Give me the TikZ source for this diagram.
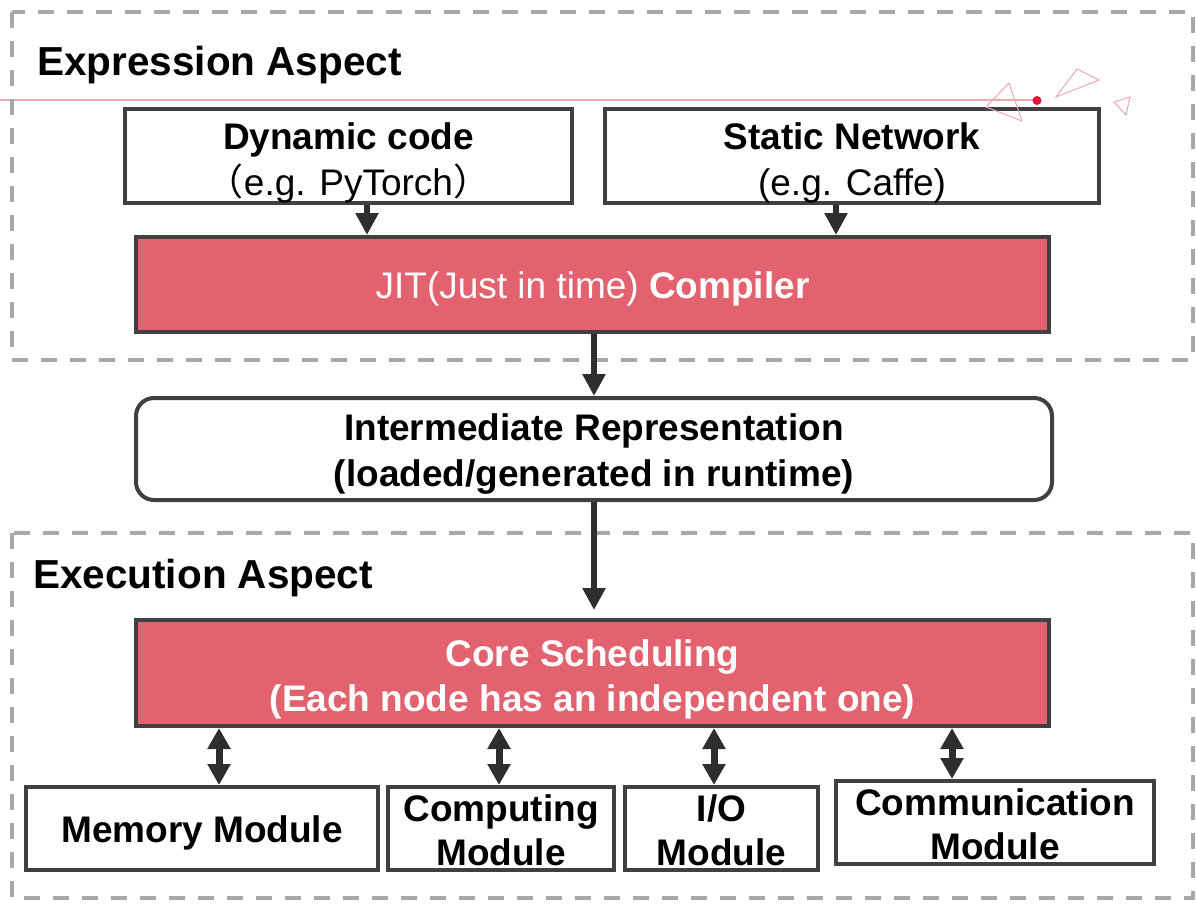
\documentclass[tikz,border=0pt]{standalone}
\usepackage{fontspec}
\setmainfont{Liberation Sans}
\newfontfamily\cjkfont{Noto Sans CJK SC}
\usetikzlibrary{arrows.meta}
\definecolor{boxline}{HTML}{404040}
\definecolor{arrowcol}{HTML}{2E2E2E}
\definecolor{redfill}{HTML}{E2626F}
\definecolor{dashgray}{HTML}{A8A8A8}
\definecolor{pinkline}{HTML}{E9A9B2}
\definecolor{dotred}{HTML}{E0153A}
\tikzset{
  dashbox/.style={draw=dashgray, line width=3.5pt, dash pattern=on 16pt off 13pt},
  plainbox/.style={draw=boxline, line width=4pt, fill=white, inner sep=0pt, align=center,
    font=\fontsize{37}{46}\selectfont},
  redbox/.style={plainbox, fill=redfill, text=white},
  heading/.style={anchor=base west, inner sep=0pt, font=\fontsize{40.5}{48}\selectfont\bfseries},
  arr/.style={draw=arrowcol, line width=6pt, -{Triangle[width=22pt,length=22pt]}},
  dblarr/.style={draw=arrowcol, line width=7pt,
    {Triangle[width=22pt,length=21pt]}-{Triangle[width=22pt,length=21pt]}},
  deco/.style={draw=pinkline, line width=1pt},
}
\begin{document}
\begin{tikzpicture}[x=1pt, y=-1pt]
\useasboundingbox (0,0) rectangle (1196,905);

% slide background line
\draw[pinkline, line width=1.5pt] (0,100) -- (1038,100);

% aspect frames
\draw[dashbox] (12,12) rectangle (1193,360);
\draw[dashbox] (12,533) rectangle (1193,898);
\node[heading] (hexp) at (37,75) {Expression Aspect};
\node[heading] (hexe) at (33,588) {Execution Aspect};

% expression layer
\node[plainbox, minimum width=447pt, minimum height=92pt, text height=87pt] (dyn) at (348.5,156)
  {\textbf{Dynamic code}\\{\cjkfont （}e.g. PyTorch{\cjkfont ）}};
\node[plainbox, minimum width=494pt, minimum height=92pt, text height=87pt] (stat) at (852,156)
  {\textbf{Static Network}\\(e.g. Caffe)};
\node[redbox, minimum width=913pt, minimum height=95pt, text height=35pt] (jit) at (592.5,284.5)
  {JIT(Just in time) \textbf{Compiler}};

% intermediate representation
\node[plainbox, rounded corners=18pt, minimum width=916pt, minimum height=102pt, text height=83pt] (ir) at (594,449)
  {\textbf{Intermediate Representation}\\\textbf{(loaded/generated in runtime)}};

% execution layer
\node[redbox, minimum width=913pt, minimum height=106pt, text height=85pt,
  font=\fontsize{37}{45}\selectfont\bfseries] (core) at (592.5,673)
  {Core Scheduling\\(Each node has an independent one)};
\node[plainbox, minimum width=352pt, minimum height=83pt, text height=35pt,
  font=\fontsize{37}{44}\selectfont\bfseries] (mem) at (202,828.5)
  {Memory Module};
\node[plainbox, minimum width=226pt, minimum height=83pt, text height=75pt,
  font=\fontsize{37}{44}\selectfont\bfseries] (comp) at (501,828.5)
  {Computing\\Module};
\node[plainbox, minimum width=193pt, minimum height=83pt, text height=75pt,
  font=\fontsize{37}{44}\selectfont\bfseries] (io) at (721.5,828.5)
  {I/O\\Module};
\node[plainbox, minimum width=318pt, minimum height=83pt, text height=75pt,
  font=\fontsize{37}{44}\selectfont\bfseries] (comm) at (995,822.5)
  {Communication\\Module};

% slide ornaments lying over the top boxes
\fill[dotred] (1037,100.5) circle (4.5pt);
\draw[deco] (986,107) -- (1009,83) -- (1022,121) -- cycle;
\draw[deco] (1056,97) -- (1077,69) -- (1099,80) -- cycle;
\draw[deco] (1114,102) -- (1130,97) -- (1126,115) -- cycle;

% connector columns
\coordinate (c1) at (367,0);
\coordinate (c2) at (836,0);
\coordinate (c3) at (594,0);
\coordinate (m1) at (219,0);
\coordinate (m2) at (499,0);
\coordinate (m3) at (714,0);
\coordinate (m4) at (952,0);

\draw[arr] (dyn.south -| c1) -- (jit.north -| c1);
\draw[arr] (stat.south -| c2) -- (jit.north -| c2);
\draw[arr] (jit.south -| c3) -- (ir.north -| c3);
\draw[arr, shorten >=8pt] (ir.south -| c3) -- (core.north -| c3);

\draw[dblarr] (core.south -| m1) -- (mem.north -| m1);
\draw[dblarr] (core.south -| m2) -- (comp.north -| m2);
\draw[dblarr] (core.south -| m3) -- (io.north -| m3);
\draw[dblarr] (core.south -| m4) -- (comm.north -| m4);
\end{tikzpicture}
\end{document}
